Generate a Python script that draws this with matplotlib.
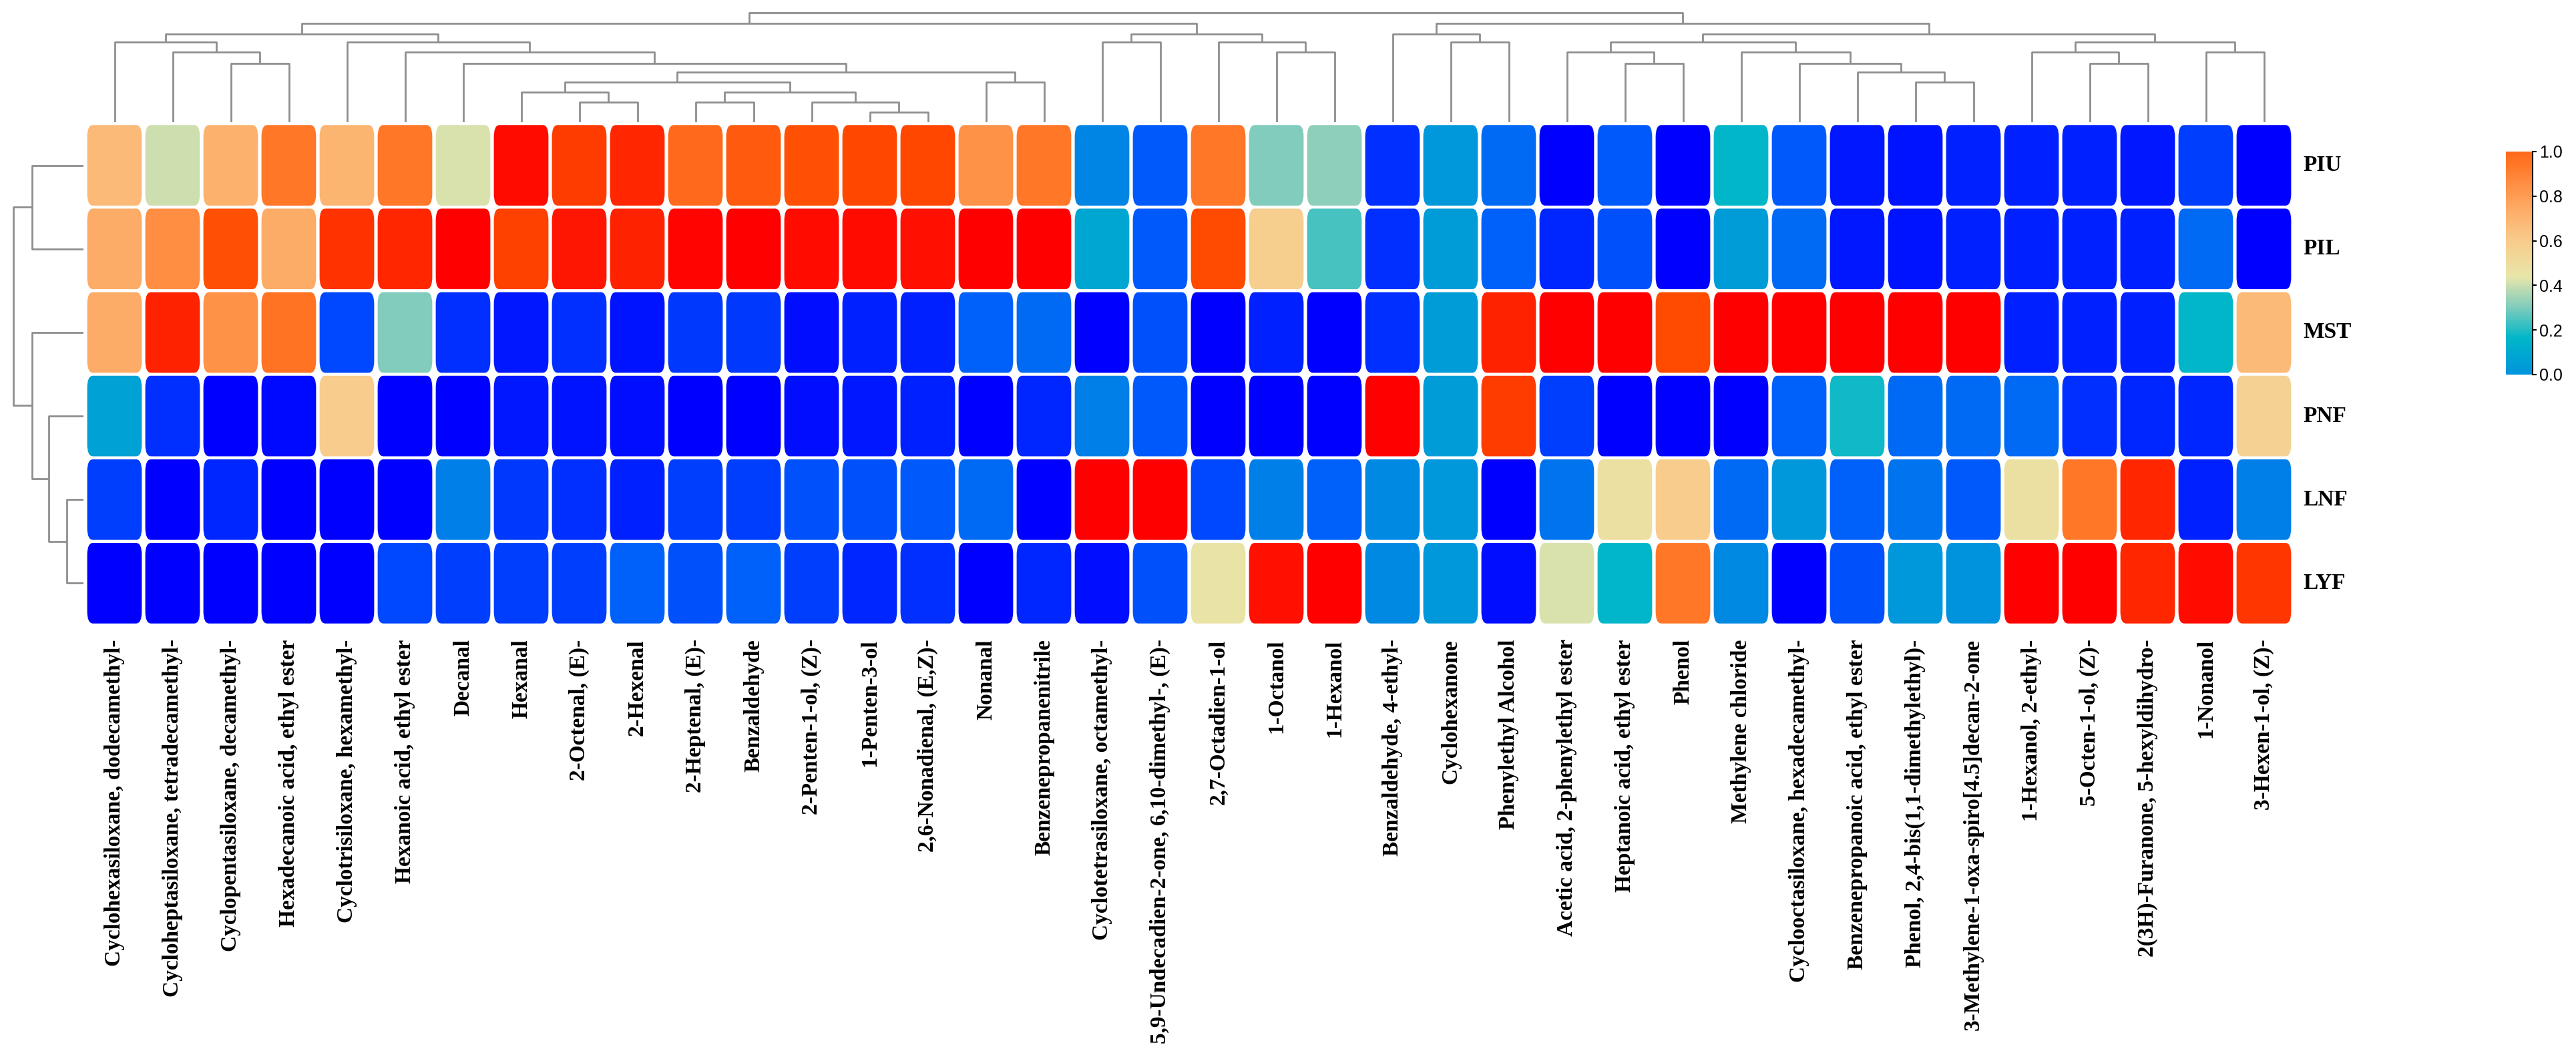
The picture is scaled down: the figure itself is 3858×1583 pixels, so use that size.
import matplotlib
matplotlib.use('Agg')
import matplotlib.pyplot as plt
from matplotlib.colors import LinearSegmentedColormap, Normalize
from matplotlib.patches import FancyBboxPatch
from matplotlib.cm import ScalarMappable
import numpy as np

# column (compound) labels, in the clustered order shown
compounds = [
    'Cyclohexasiloxane, dodecamethyl-', 'Cycloheptasiloxane, tetradecamethyl-',
    'Cyclopentasiloxane, decamethyl-', 'Hexadecanoic acid, ethyl ester',
    'Cyclotrisiloxane, hexamethyl-', 'Hexanoic acid, ethyl ester', 'Decanal',
    'Hexanal', '2-Octenal, (E)-', '2-Hexenal', '2-Heptenal, (E)-', 'Benzaldehyde',
    '2-Penten-1-ol, (Z)-', '1-Penten-3-ol', '2,6-Nonadienal, (E,Z)-', 'Nonanal',
    'Benzenepropanenitrile', 'Cyclotetrasiloxane, octamethyl-',
    '5,9-Undecadien-2-one, 6,10-dimethyl-, (E)-', '2,7-Octadien-1-ol', '1-Octanol',
    '1-Hexanol', 'Benzaldehyde, 4-ethyl-', 'Cyclohexanone', 'Phenylethyl Alcohol',
    'Acetic acid, 2-phenylethyl ester', 'Heptanoic acid, ethyl ester', 'Phenol',
    'Methylene chloride', 'Cyclooctasiloxane, hexadecamethyl-',
    'Benzenepropanoic acid, ethyl ester', 'Phenol, 2,4-bis(1,1-dimethylethyl)-',
    '3-Methylene-1-oxa-spiro[4.5]decan-2-one', '1-Hexanol, 2-ethyl-',
    '5-Octen-1-ol, (Z)-', '2(3H)-Furanone, 5-hexyldihydro-', '1-Nonanol',
    '3-Hexen-1-ol, (Z)-',
]

samples = ['PIU', 'PIL', 'MST', 'PNF', 'LNF', 'LYF']

# normalised values
piu = [0.64, 0.50, 0.66, 0.77, 0.65, 0.77, 0.51, 0.98, 0.89, 0.93, 0.80, 0.83, 0.85,
       0.87, 0.87, 0.72, 0.77, 0.27, 0.19, 0.77, 0.45, 0.46, 0.10, 0.31, 0.22, 0.00,
       0.19, 0.00, 0.38, 0.19, 0.05, 0.04, 0.07, 0.07, 0.07, 0.05, 0.13, 0.00]
pil = [0.67, 0.73, 0.85, 0.67, 0.91, 0.93, 1.00, 0.88, 0.96, 0.94, 0.99, 1.00, 0.98,
       0.98, 0.97, 1.00, 1.00, 0.34, 0.19, 0.86, 0.59, 0.42, 0.10, 0.32, 0.20, 0.08,
       0.17, 0.00, 0.32, 0.22, 0.05, 0.04, 0.07, 0.07, 0.07, 0.07, 0.22, 0.00]
mst = [0.67, 0.94, 0.72, 0.78, 0.15, 0.45, 0.10, 0.05, 0.10, 0.04, 0.12, 0.12, 0.03,
       0.07, 0.07, 0.20, 0.22, 0.00, 0.17, 0.00, 0.07, 0.00, 0.10, 0.32, 0.94, 1.00,
       1.00, 0.86, 1.00, 1.00, 1.00, 1.00, 1.00, 0.07, 0.07, 0.07, 0.38, 0.64]
pnf = [0.33, 0.10, 0.00, 0.02, 0.60, 0.00, 0.00, 0.05, 0.04, 0.03, 0.00, 0.00, 0.03,
       0.05, 0.07, 0.00, 0.08, 0.26, 0.19, 0.00, 0.00, 0.00, 1.00, 0.32, 0.89, 0.13,
       0.00, 0.00, 0.00, 0.20, 0.39, 0.22, 0.22, 0.22, 0.10, 0.08, 0.08, 0.58]
lnf = [0.13, 0.00, 0.08, 0.00, 0.00, 0.00, 0.26, 0.12, 0.10, 0.07, 0.13, 0.13, 0.17,
       0.17, 0.19, 0.22, 0.00, 1.00, 1.00, 0.15, 0.26, 0.20, 0.28, 0.31, 0.00, 0.24,
       0.54, 0.60, 0.22, 0.31, 0.20, 0.24, 0.19, 0.54, 0.77, 0.93, 0.07, 0.26]
lyf = [0.00, 0.00, 0.00, 0.00, 0.00, 0.15, 0.13, 0.13, 0.13, 0.20, 0.17, 0.20, 0.13,
       0.08, 0.10, 0.00, 0.08, 0.03, 0.17, 0.53, 0.97, 1.00, 0.28, 0.31, 0.03, 0.51,
       0.38, 0.77, 0.28, 0.00, 0.17, 0.31, 0.30, 1.00, 1.00, 0.93, 0.98, 0.90]

# column tree: (child a, child b, height); ids >= 38 are earlier merges
col_merges = [
    (2, 3, 5.9), (1, 38, 7.0), (0, 39, 8.0), (8, 9, 2.0), (7, 41, 3.0),
    (10, 11, 2.0), (13, 14, 1.0), (12, 44, 2.0), (43, 45, 3.0), (42, 46, 4.0),
    (15, 16, 4.0), (47, 48, 5.0), (6, 49, 5.9), (5, 50, 7.0), (4, 51, 8.0),
    (40, 52, 8.85), (17, 18, 8.0), (20, 21, 7.0), (19, 55, 8.0), (54, 56, 8.85),
    (53, 57, 9.9), (23, 24, 8.0), (22, 59, 8.85), (26, 27, 5.9), (25, 61, 7.0),
    (31, 32, 4.0), (30, 63, 5.0), (29, 64, 5.9), (28, 65, 7.0), (62, 66, 8.0),
    (34, 35, 5.9), (33, 68, 7.0), (36, 37, 7.0), (69, 70, 8.0), (67, 71, 8.85),
    (60, 72, 9.9), (58, 73, 11.0),
]

# row tree
row_merges = [(0, 1, 3.1), (4, 5, 1.0), (3, 7, 2.1), (2, 8, 3.1), (6, 9, 4.2)]

cell_colors = [
    (0.00, '#0000FF'), (0.10, '#0030FF'), (0.20, '#0060FA'), (0.30, '#0094DC'),
    (0.38, '#00B6C8'), (0.45, '#80CCBC'), (0.52, '#E8E6AA'), (0.60, '#F8CC8C'),
    (0.68, '#FEA862'), (0.77, '#FF7828'), (0.86, '#FF4C00'), (0.93, '#FF2800'),
    (1.00, '#FF0000'),
]
cell_cmap = LinearSegmentedColormap.from_list('cells', cell_colors)
# the legend bar only shows the middle part of the scale
bar_cmap = LinearSegmentedColormap.from_list(
    'bar', cell_cmap(np.linspace(0.30, 0.80, 256)))

values = np.array([piu, pil, mst, pnf, lnf, lyf])
n_rows, n_cols = values.shape

W, H = 3858, 1583
fig = plt.figure(figsize=(W / 100, H / 100), dpi=100)


def px_axes(x0, y0, x1, y1):
    return fig.add_axes([x0 / W, 1 - y1 / H, (x1 - x0) / W, (y1 - y0) / H])


hm_x0, hm_x1, hm_y0, hm_y1 = 128, 3434, 185, 936
ax = px_axes(hm_x0, hm_y0, hm_x1, hm_y1)
ax.set_xlim(0, n_cols)
ax.set_ylim(n_rows, 0)
ax.axis('off')

norm = Normalize(0, 1)
mx, my = 0.03, 0.018
aspect = (hm_x1 - hm_x0) / n_cols / ((hm_y1 - hm_y0) / n_rows)
for r in range(n_rows):
    for c in range(n_cols):
        box = FancyBboxPatch((c + mx, r + my), 1 - 2 * mx, 1 - 2 * my,
                             boxstyle='round,pad=0,rounding_size=0.1',
                             mutation_aspect=1 / aspect,
                             facecolor=cell_cmap(norm(values[r, c])),
                             edgecolor='none')
        ax.add_patch(box)

serif = ['Liberation Serif', 'DejaVu Serif']
for c, name in enumerate(compounds):
    ax.text(c + 0.5, n_rows + 0.17, name, rotation=90, ha='center', va='top',
            fontsize=24, fontweight='bold', family=serif)
for r, name in enumerate(samples):
    ax.text(n_cols + 0.18, r + 0.5, name, ha='left', va='center',
            fontsize=24, fontweight='bold', family=serif)

line_kw = dict(color='#8E8E8E', lw=2.0, solid_capstyle='butt')


def draw_tree(tax, merges, n, top):
    pos = [i + 0.5 for i in range(n)]
    hts = [0.0] * n
    for a, b, h in merges:
        pa, pb, ha, hb = pos[a], pos[b], hts[a], hts[b]
        if top:
            tax.plot([pa, pa, pb, pb], [ha, h, h, hb], **line_kw)
        else:
            tax.plot([ha, h, h, hb], [pa, pa, pb, pb], **line_kw)
        pos.append((pa + pb) / 2)
        hts.append(h)


tax = px_axes(hm_x0, 5, hm_x1, 183)
tax.set_xlim(0, n_cols)
tax.set_ylim(0, 178 / 14.95)
tax.axis('off')
draw_tree(tax, col_merges, n_cols, True)

lax = px_axes(0, hm_y0, 125, hm_y1)
lax.set_ylim(n_rows, 0)
lax.set_xlim(125 / 25, 0)
lax.axis('off')
draw_tree(lax, row_merges, n_rows, False)

cax = px_axes(3753, 227, 3793, 561)
cb = fig.colorbar(ScalarMappable(norm=norm, cmap=bar_cmap), cax=cax,
                  ticks=[0, 0.2, 0.4, 0.6, 0.8, 1.0])
cb.outline.set_visible(False)
cax.plot([1, 1], [0, 1], transform=cax.transAxes, color='black', lw=1.5,
         clip_on=False)
cax.tick_params(direction='out', length=4, width=1.5, pad=3, labelsize=18)
cb.set_ticklabels(['0.0', '0.2', '0.4', '0.6', '0.8', '1.0'])
for t in cax.get_yticklabels():
    t.set_family(['Liberation Sans', 'DejaVu Sans'])

fig.savefig('out.png', dpi=100)
